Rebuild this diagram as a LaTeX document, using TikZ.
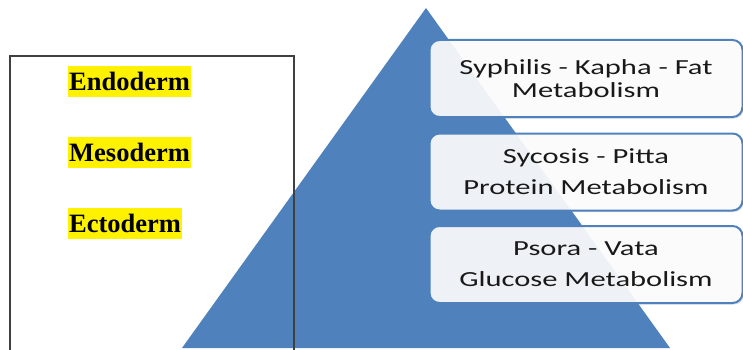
\documentclass[tikz,border=0pt]{standalone}
\usepackage{fontspec}
\newfontfamily\timesfont{Liberation Serif}
\newfontfamily\calibrifont[FakeStretch=1.42]{Carlito}
\usetikzlibrary{shadows}
\definecolor{pyrblue}{HTML}{4F81BD}
\definecolor{framegray}{HTML}{404040}

\tikzset{
  layer/.style={font=\timesfont\bfseries\fontsize{26.5}{30}\selectfont, fill=yellow,
    inner xsep=1pt, inner ysep=0pt, minimum height=31pt, anchor=west},
  tier/.style={draw=pyrblue, line width=2pt, rounded corners=10pt, fill=white,
    fill opacity=0.9, text opacity=1, minimum width=313pt, minimum height=77pt,
    align=center, text=black!90, font=\calibrifont\fontsize{21.5}{23}\selectfont,
    drop shadow={shadow xshift=1.5pt, shadow yshift=-1.5pt, opacity=0.25}}
}

\begin{document}
\begin{tikzpicture}[x=1pt, y=-1pt]
            \useasboundingbox (0,0) rectangle (743,350);

            % pyramid
            \fill[pyrblue] (426,8) -- (670,348) -- (182,348) -- cycle;

            % germ layers
            \draw[framegray, line width=1.3pt] (10,350) |- (294,56) -- (294,350);
            \node[layer] (endo) at (68, 81.5)  {Endoderm};
            \node[layer] (meso) at (68, 152)   {Mesoderm};
            \node[layer] (ecto) at (68, 223)   {Ectoderm};

            % miasm - dosha - metabolism
            \node[tier] (fat) at (586, 78.5) {Syphilis - Kapha - Fat\\Metabolism};
            \node[tier] (protein) at (586, 172) {Sycosis - Pitta\\[8pt]Protein Metabolism};
            \node[tier] (glucose) at (586, 264.5) {Psora - Vata\\[8pt]Glucose Metabolism};
        \end{tikzpicture}
\end{document}
